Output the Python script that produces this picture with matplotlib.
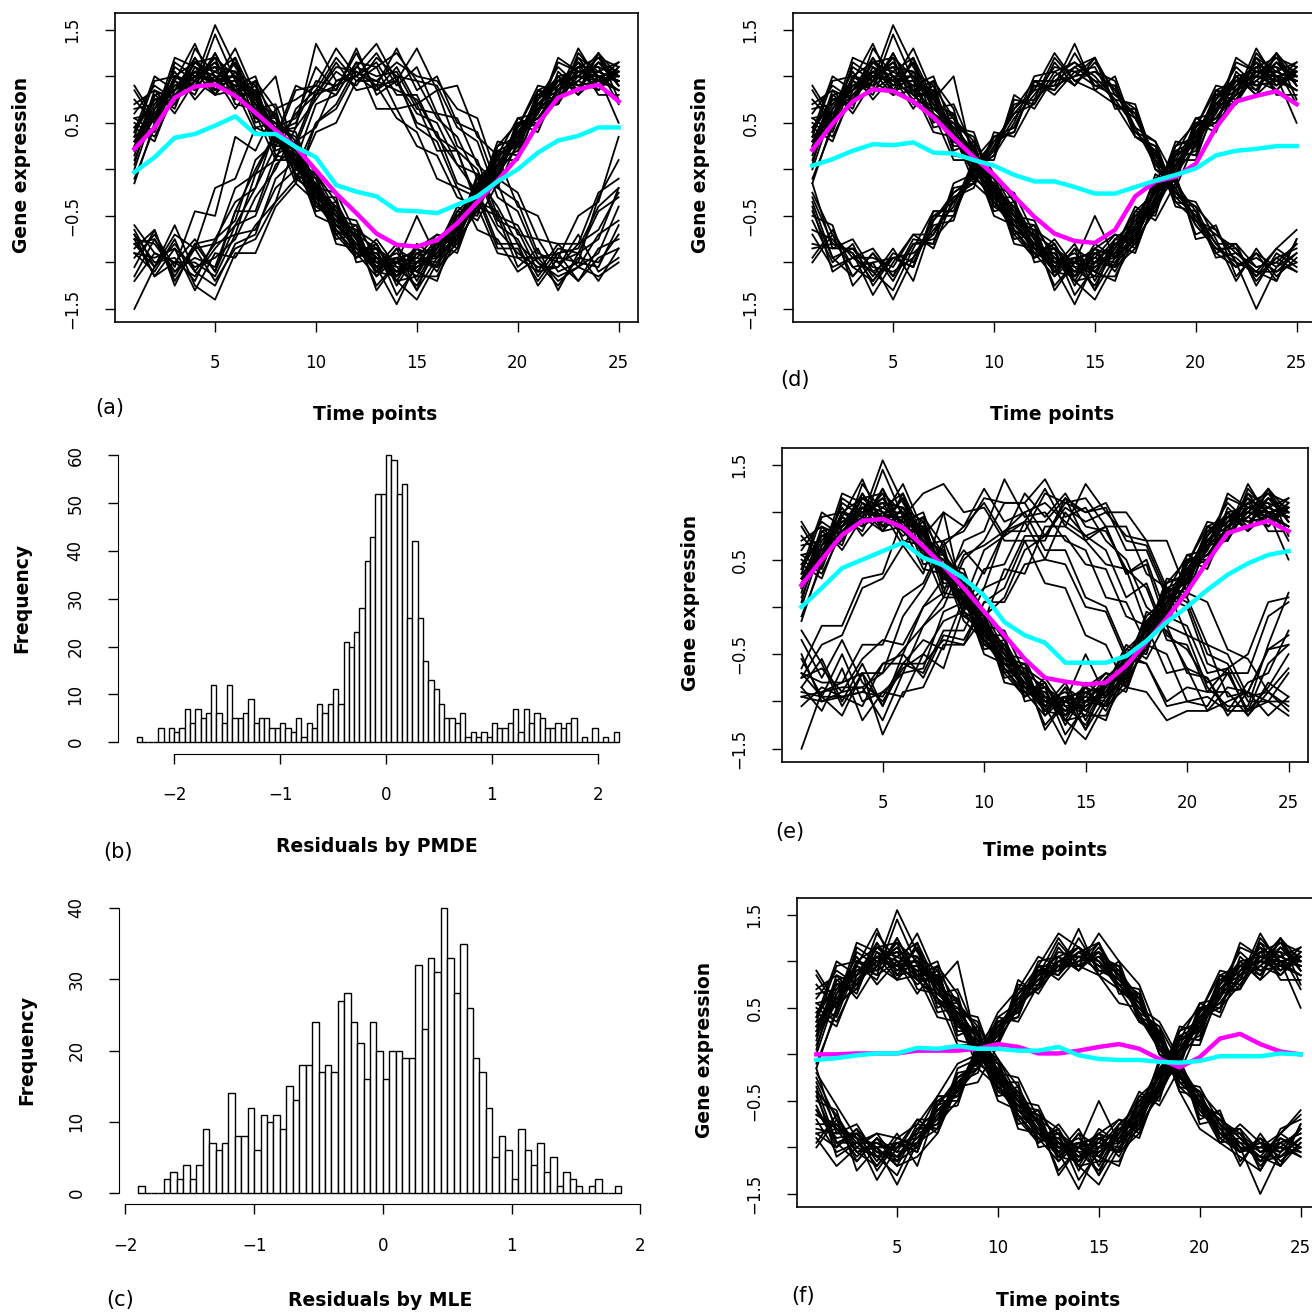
import numpy as np
import matplotlib
matplotlib.use('Agg')
from matplotlib import pyplot as plt

W, H = 1312, 1314
plt.rcParams['font.family'] = 'DejaVu Sans'

time_points = np.arange(1, 26)

# cluster 1 profiles (shared by all four expression panels)
group1_lines = [
    [0.55,0.40,0.95,0.80,1.25,0.85,0.95,0.20,0.30,-0.40,-0.35,-0.95,-0.80,-1.25,-0.90,-1.05,-0.45,-0.50,0.20,0.15,0.85,0.70,1.20,0.90,1.10],
    [0.05,0.80,0.65,1.20,0.90,1.15,0.50,0.60,-0.10,-0.05,-0.70,-0.60,-1.15,-0.85,-1.30,-0.75,-0.80,-0.15,-0.10,0.55,0.45,1.05,0.85,1.25,0.75],
    [0.85,0.50,1.10,0.95,0.80,1.20,0.60,0.30,0.25,-0.35,-0.60,-0.65,-1.10,-1.15,-0.80,-0.95,-0.75,-0.20,0.15,0.25,0.80,0.95,0.85,1.15,1.00],
    [0.30,0.75,0.70,1.30,1.00,0.75,0.90,0.55,0.00,-0.10,-0.65,-0.95,-0.75,-1.05,-1.25,-0.85,-0.55,-0.40,-0.05,0.40,0.55,0.80,1.30,0.95,0.85],
    [-0.10,0.45,1.00,0.85,1.45,0.95,0.55,0.45,0.35,-0.25,-0.45,-0.85,-1.00,-0.90,-1.10,-1.20,-0.60,-0.10,0.10,0.20,0.75,1.10,0.90,1.05,1.15],
    [0.60,0.90,0.75,1.05,0.95,1.30,0.80,0.15,0.10,-0.45,-0.40,-0.75,-1.25,-1.00,-0.95,-0.70,-0.85,-0.35,0.25,0.50,0.50,0.75,1.10,1.20,0.90],
    [0.20,0.55,1.20,1.10,0.85,0.90,1.00,0.40,-0.05,-0.20,-0.75,-0.70,-0.85,-1.35,-1.05,-0.90,-0.50,-0.45,0.00,0.45,0.90,0.85,0.95,0.85,1.05],
    [0.45,0.30,0.85,1.15,1.20,0.70,0.65,0.70,0.20,-0.30,-0.30,-1.00,-0.95,-1.10,-0.85,-1.10,-0.70,-0.05,-0.20,0.30,0.60,1.15,1.05,1.10,0.70],
    [0.70,0.85,0.60,0.95,1.55,1.10,0.75,0.35,0.05,-0.15,-0.60,-0.80,-1.05,-0.80,-1.20,-0.80,-0.90,-0.30,0.05,0.35,0.70,0.70,1.25,1.00,0.95],
    [0.10,0.65,1.05,0.75,1.00,1.00,0.45,0.50,0.15,-0.40,-0.55,-0.60,-0.95,-1.20,-1.40,-1.00,-0.65,-0.25,0.20,0.15,0.65,1.00,0.80,1.25,1.00],
    [0.40,1.00,0.85,1.20,0.80,0.85,0.85,0.25,0.25,-0.30,-0.50,-0.90,-1.15,-0.95,-0.90,-0.85,-0.40,-0.55,-0.15,0.50,0.40,0.90,1.15,0.80,0.80],
    [-0.15,0.50,0.75,1.00,1.10,1.05,0.70,0.60,0.00,-0.15,-0.80,-0.85,-0.85,-1.00,-1.15,-1.15,-0.75,-0.30,0.30,0.25,0.85,0.95,1.00,1.20,1.10],
    [0.35,0.95,1.00,0.90,1.25,0.80,0.60,0.10,0.10,-0.05,-0.45,-0.75,-1.05,-1.45,-1.00,-0.75,-0.55,-0.15,0.05,0.40,0.50,1.00,1.05,0.95,0.85],
    [0.90,0.55,0.70,1.10,1.00,0.65,0.95,0.65,-0.10,-0.25,-0.55,-0.90,-0.80,-1.15,-0.90,-1.05,-0.85,-0.35,-0.10,0.45,0.85,0.80,1.20,1.05,0.95],
    [0.25,0.70,0.95,1.35,0.85,1.15,0.70,0.45,0.40,-0.20,-0.25,-0.70,-1.30,-1.00,-1.10,-0.80,-0.75,-0.15,0.10,0.10,0.70,0.95,0.90,0.95,1.15],
    [0.50,0.35,0.80,0.95,1.15,0.85,0.40,0.35,0.10,-0.50,-0.60,-0.85,-0.90,-1.20,-0.85,-0.70,-0.75,-0.45,0.15,0.55,0.60,1.20,1.05,1.00,0.85],
    [0.15,0.80,0.85,1.05,0.80,1.05,0.90,0.30,0.20,-0.10,-0.50,-0.55,-1.00,-0.95,-1.30,-0.95,-0.50,-0.25,-0.05,0.35,0.80,0.75,1.00,1.25,0.90],
    [0.55,0.60,0.90,0.90,1.05,1.20,0.75,1.00,0.05,-0.30,-0.70,-0.95,-0.85,-1.10,-1.05,-0.90,-0.60,-0.45,0.05,0.40,0.55,0.85,1.15,1.00,1.05],
    [0.30,0.45,1.15,1.00,0.95,0.80,0.60,0.45,0.20,-0.20,-0.40,-0.85,-1.10,-0.85,-1.00,-1.05,-0.65,-0.20,0.20,0.30,0.75,1.00,0.80,1.00,0.50],
    [0.20,0.85,0.75,1.15,1.05,0.90,0.85,0.40,-0.15,-0.35,-0.55,-0.65,-0.80,-1.20,-1.15,-0.75,-0.75,-0.30,0.10,0.45,0.65,0.70,1.05,1.05,0.95],
    [0.75,0.50,1.00,0.95,1.20,1.00,0.70,0.30,0.15,-0.25,-0.55,-0.70,-1.05,-1.00,-0.85,-0.95,-0.55,-0.40,0.15,0.30,0.75,0.95,1.10,0.85,1.10],
    [0.00,0.65,0.90,1.05,0.90,0.95,0.75,0.55,0.25,-0.25,-0.65,-0.80,-0.95,-1.05,-1.00,-0.80,-0.65,-0.35,-0.10,0.50,0.55,0.85,0.95,1.15,0.90],
    [0.45,0.75,0.85,1.00,1.10,0.80,0.80,0.40,0.10,-0.20,-0.45,-0.85,-0.90,-1.15,-1.00,-0.95,-0.70,-0.20,0.05,0.30,0.70,0.90,1.00,0.90,1.05],
    [0.30,0.60,0.80,1.05,1.10,1.05,0.65,0.45,0.05,-0.30,-0.50,-0.75,-1.05,-1.00,-1.05,-0.90,-0.60,-0.35,0.00,0.40,0.70,0.85,1.05,1.05,0.95],
    [0.25,0.65,0.85,1.00,0.95,0.95,0.70,0.40,0.10,-0.25,-0.60,-0.80,-0.95,-1.00,-0.50,-0.95,-0.70,-0.30,0.05,0.35,0.70,0.95,1.00,1.00,0.95],
    [0.65,0.70,0.95,0.85,1.00,0.90,0.55,0.55,0.30,-0.05,-0.35,-0.75,-1.00,-0.95,-1.10,-0.85,-0.45,-0.25,0.25,0.35,0.60,0.95,1.10,1.10,1.00],
    [0.35,0.55,1.00,1.15,0.95,1.00,0.80,0.35,-0.05,-0.35,-0.65,-0.90,-1.00,-1.10,-0.95,-1.00,-0.80,-0.40,-0.05,0.25,0.65,0.80,0.95,1.15,1.05],
    [0.40,0.75,0.80,1.00,1.15,0.85,0.65,0.50,0.15,-0.20,-0.50,-0.80,-1.10,-0.95,-1.00,-0.90,-0.65,-0.30,0.05,0.40,0.70,0.90,1.00,0.95,1.00],
]

# cluster 2 in anti-phase (panels d and f)
group2_lines = [
    [-0.55,-1.00,-0.80,-1.25,-0.95,-1.05,-0.50,-0.50,0.00,0.15,0.75,0.70,1.15,0.90,1.20,0.65,0.65,0.00,-0.10,-0.70,-0.60,-1.15,-0.90,-1.20,-0.75],
    [-0.25,-0.70,-1.15,-0.90,-1.20,-0.80,-0.80,-0.20,-0.15,0.35,0.40,0.95,0.85,1.25,0.90,0.90,0.35,0.25,-0.35,-0.40,-0.90,-0.80,-1.25,-0.90,-1.05],
    [-0.80,-0.85,-0.75,-1.10,-1.30,-0.85,-0.45,-0.45,0.05,0.20,0.65,0.95,0.80,1.05,1.10,0.70,0.60,0.10,-0.15,-0.55,-0.85,-1.00,-1.10,-0.85,-0.65],
    [-0.40,-1.10,-0.95,-0.95,-1.05,-0.70,-0.85,-0.30,-0.20,0.40,0.35,0.75,1.20,0.95,0.85,1.00,0.40,0.30,-0.30,-0.35,-0.75,-1.20,-0.85,-1.15,-0.95],
    [-0.95,-0.65,-1.05,-1.20,-0.90,-1.00,-0.60,-0.55,0.10,0.10,0.80,0.65,1.00,1.15,1.00,0.75,0.70,0.05,-0.05,-0.75,-0.70,-0.85,-1.20,-0.95,-1.10],
    [-0.15,-0.85,-0.85,-1.15,-0.85,-1.20,-0.55,-0.25,-0.10,0.30,0.60,0.85,1.25,0.95,1.05,0.95,0.35,0.20,-0.40,-0.45,-0.95,-0.90,-1.05,-1.00,-0.80],
    [-0.70,-1.05,-0.95,-0.85,-1.15,-0.75,-0.80,-0.15,-0.05,0.35,0.45,0.90,0.90,1.35,0.85,0.70,0.55,0.15,-0.25,-0.40,-0.65,-1.00,-1.50,-1.05,-0.90],
    [-0.50,-0.60,-1.25,-1.00,-0.95,-1.05,-0.45,-0.45,-0.05,0.20,0.70,0.75,0.95,1.00,1.20,0.80,0.60,0.00,-0.20,-0.60,-0.85,-0.85,-1.15,-0.85,-1.00],
    [-0.85,-0.80,-0.90,-1.35,-1.00,-0.70,-0.70,-0.35,0.00,0.15,0.50,1.00,1.05,0.90,1.15,0.85,0.40,0.20,-0.30,-0.50,-0.80,-1.05,-0.95,-1.10,-0.90],
    [-0.35,-0.95,-0.85,-1.05,-1.10,-0.95,-0.65,-0.40,0.10,0.35,0.45,0.90,0.85,1.10,0.95,0.75,0.45,0.30,-0.10,-0.55,-0.70,-0.90,-1.10,-1.20,-0.75],
    [-0.65,-0.75,-1.05,-1.00,-1.40,-0.95,-0.55,-0.30,-0.15,0.25,0.60,0.70,1.05,1.15,0.95,0.90,0.45,0.05,-0.20,-0.60,-0.85,-0.95,-1.15,-0.95,-0.85],
    [-1.00,-0.70,-0.95,-1.10,-0.95,-0.90,-0.70,-0.25,-0.10,0.25,0.65,0.85,0.90,1.00,1.05,0.85,0.55,0.15,-0.15,-0.45,-0.80,-0.80,-1.05,-1.00,-1.10],
    [-0.45,-0.95,-1.15,-0.90,-1.15,-0.80,-0.75,-0.50,0.05,0.30,0.40,0.95,0.95,1.10,1.20,0.70,0.35,0.25,-0.25,-0.50,-0.90,-1.05,-0.90,-1.05,-0.80],
    [-0.30,-0.80,-0.90,-1.20,-0.95,-1.05,-0.50,-0.35,0.00,0.20,0.55,0.80,1.10,1.05,0.90,0.80,0.65,0.10,-0.35,-0.55,-0.65,-1.00,-1.10,-1.10,-1.00],
    [-0.75,-0.75,-1.05,-0.95,-1.10,-0.80,-0.60,-0.40,-0.15,0.30,0.50,0.75,1.00,0.95,1.10,0.85,0.40,0.15,-0.10,-0.45,-0.75,-0.95,-1.00,-0.85,-0.60],
    [-0.60,-0.90,-0.85,-1.00,-1.00,-0.95,-0.80,-0.30,-0.05,0.40,0.55,0.70,0.95,1.15,1.00,0.70,0.50,0.25,-0.25,-0.40,-0.85,-1.05,-0.95,-1.00,-1.05],
    [-0.85,-1.00,-0.80,-1.05,-1.15,-1.00,-0.55,-0.45,0.00,0.15,0.50,0.90,1.05,0.90,1.10,0.90,0.60,0.10,-0.20,-0.55,-0.70,-0.90,-1.15,-1.10,-0.90],
    [-0.40,-0.65,-1.00,-1.10,-1.00,-0.85,-0.75,-0.25,-0.10,0.25,0.65,0.80,0.90,1.10,0.95,0.95,0.40,0.05,-0.20,-0.65,-0.75,-1.00,-1.00,-0.95,-0.85],
    [-0.60,-0.95,-0.95,-0.95,-1.10,-0.90,-0.60,-0.40,-0.05,0.35,0.45,0.85,1.00,0.95,1.05,0.75,0.55,0.20,-0.30,-0.50,-0.85,-0.85,-1.05,-0.90,-1.00],
    [-0.65,-0.80,-1.10,-0.90,-1.05,-1.00,-0.65,-0.35,0.05,0.20,0.60,0.85,1.00,1.05,1.00,0.80,0.50,0.20,-0.15,-0.50,-0.70,-1.05,-1.00,-1.05,-0.80],
    [-0.20,-0.55,-0.90,-1.00,-1.20,-1.10,-0.85,-0.35,-0.30,0.10,0.55,0.95,1.30,1.15,0.85,0.55,0.50,0.35,-0.05,-0.55,-0.95,-1.10,-1.25,-0.80,-0.70],
    [-0.90,-1.20,-1.00,-0.85,-0.90,-0.75,-0.45,-0.10,0.00,0.45,0.70,1.05,0.95,0.95,1.30,1.00,0.75,0.20,-0.40,-0.80,-0.95,-0.75,-0.95,-1.20,-0.95],
]

# cluster 2 with shifted phase (panel a)
shifted_lines = [
    [-0.70,-1.00,-0.95,-1.20,-0.75,-0.55,0.10,0.30,0.85,0.90,1.30,1.00,1.15,0.80,0.80,0.35,0.20,-0.35,-0.45,-0.95,-0.95,-1.20,-1.05,-0.90,-0.40],
    [-1.50,-1.05,-0.80,-1.10,-1.25,-0.80,-0.70,-0.10,0.10,0.70,0.80,1.15,1.10,1.25,0.95,0.90,0.45,0.30,-0.30,-0.45,-0.95,-0.90,-1.20,-0.85,-0.75],
    [-0.85,-0.65,-1.20,-0.85,-0.80,-0.20,-0.05,0.40,0.45,1.35,0.95,1.05,0.90,0.95,0.50,0.40,-0.15,-0.25,-0.80,-0.80,-1.25,-0.95,-1.00,-0.30,0.10],
    [-0.90,-1.10,-0.75,-1.25,-1.40,-0.90,-0.90,-0.40,-0.15,0.50,0.70,1.10,1.35,0.95,1.30,0.85,0.90,0.35,0.15,-0.40,-0.50,-1.00,-0.90,-1.20,-0.85],
    [-0.65,-1.05,-0.70,-0.85,-0.20,-0.10,0.45,0.35,0.90,0.80,1.15,0.85,0.90,0.55,0.40,-0.10,-0.20,-0.65,-0.75,-1.10,-0.95,-0.95,-0.50,-0.35,0.35],
    [-1.15,-0.75,-1.10,-0.95,-1.05,-0.45,-0.45,0.15,0.30,0.85,0.85,1.25,0.85,1.10,0.70,0.85,0.25,0.10,-0.50,-0.60,-1.00,-1.25,-0.95,-1.00,-0.70],
    [-0.70,-1.15,-1.00,-0.75,-1.10,-0.60,-0.50,0.05,0.25,0.80,0.90,1.10,1.00,1.05,0.65,0.60,0.20,0.00,-0.55,-0.65,-1.10,-1.05,-0.70,-1.10,-0.95],
    [-0.95,-0.70,-1.05,-0.45,-0.50,0.35,0.20,0.65,0.75,0.90,0.80,1.15,0.65,0.65,0.25,0.15,-0.30,-0.40,-0.90,-0.95,-1.10,-0.80,-0.80,-0.25,-0.10],
    [-1.20,-0.90,-1.00,-1.00,-1.15,-0.70,-0.65,-0.20,0.00,0.50,0.65,1.05,0.90,1.30,0.85,1.00,0.50,0.40,-0.20,-0.35,-0.90,-1.00,-1.20,-0.95,-0.85],
    [-0.80,-1.05,-0.60,-1.10,-0.80,-0.70,-0.05,0.10,0.65,0.85,1.20,0.95,1.10,0.65,0.70,0.20,0.20,-0.40,-0.50,-1.05,-0.85,-1.30,-0.90,-0.75,-0.20],
    [-0.75,-0.80,-1.10,-0.85,-1.20,-0.85,-0.75,-0.35,-0.10,0.40,0.50,0.95,0.95,1.15,1.00,0.95,0.65,0.55,-0.10,-0.25,-0.75,-0.80,-1.05,-1.15,-1.00],
    [-1.05,-0.65,-1.25,-0.80,-0.75,-0.35,-0.20,0.45,0.55,1.10,0.85,1.30,0.80,0.95,0.60,0.50,0.05,-0.05,-0.60,-0.75,-1.15,-0.85,-0.90,-0.45,-0.30],
    [-0.75,-1.15,-0.85,-1.30,-0.90,-0.95,-0.60,-0.35,0.30,0.45,0.95,1.00,1.25,0.90,1.10,0.60,0.55,0.05,-0.15,-0.70,-0.75,-1.10,-1.00,-1.05,-0.60],
    [-0.80,-0.75,-1.15,-0.80,-1.10,-0.45,0.00,0.40,0.50,0.95,0.90,1.00,0.85,1.00,0.45,0.30,-0.20,-0.30,-0.85,-0.85,-1.20,-0.90,-0.85,-0.40,-0.20],
    [-0.90,-0.95,-0.85,-1.05,-0.95,-0.75,-0.30,0.00,0.45,0.75,1.05,0.90,1.20,1.00,0.95,0.55,0.35,-0.10,-0.40,-0.80,-1.00,-1.15,-1.05,-0.70,-0.55],
    [-0.60,-0.90,-1.00,-1.15,-0.85,-0.60,-0.20,0.25,0.60,0.80,1.10,1.05,0.95,0.85,0.75,0.35,0.05,-0.25,-0.65,-0.90,-1.05,-1.05,-0.80,-0.65,-0.25],
]

# cluster 2 with mixed phases (panel e)
mixed_lines = [
    [-0.70,-0.95,-0.50,-1.00,-0.90,-0.70,-0.20,0.00,0.50,0.70,1.10,1.10,1.35,0.95,1.05,0.70,0.50,0.00,-0.20,-0.70,-0.75,-1.15,-0.90,-1.00,-0.70],
    [-1.50,-0.90,-0.80,-0.40,-0.40,0.10,0.25,0.70,0.80,1.15,1.10,1.10,0.75,0.75,0.45,0.40,-0.10,-0.20,-0.70,-0.65,-1.10,-1.00,-0.90,-0.45,-0.40],
    [-0.85,-1.10,-0.65,-1.20,-0.90,-0.95,-0.50,-0.65,0.00,0.20,0.80,0.80,1.20,1.10,1.15,0.85,0.85,0.35,0.20,-0.30,-0.40,-0.95,-0.90,-1.15,-0.95],
    [-0.95,-1.00,-0.90,-0.85,-0.70,-0.10,0.20,0.65,0.85,1.25,0.90,1.00,0.60,0.60,0.10,0.00,-0.50,-0.60,-1.05,-1.00,-1.05,-0.70,-0.70,-0.10,0.05],
    [-0.25,-0.60,-1.05,-0.70,-1.35,-0.90,-0.85,-0.40,-0.40,0.05,0.20,0.70,0.70,1.15,1.00,1.05,0.60,0.60,0.10,0.00,-0.60,-0.70,-1.10,-1.00,-1.15],
    [-0.70,-0.80,-0.80,-0.70,-0.70,-0.45,-0.20,0.10,0.55,0.65,0.80,0.90,1.25,0.85,0.70,0.45,0.40,-0.20,-0.25,-0.65,-0.75,-1.10,-1.10,-0.85,-0.50],
    [-0.65,-0.20,-0.20,0.30,0.35,0.95,1.20,1.30,1.00,1.05,0.70,0.70,0.25,0.20,-0.30,-0.40,-0.85,-0.90,-1.20,-1.10,-1.10,-0.85,-0.90,-0.45,-0.30],
    [-0.50,-1.00,-0.95,-1.05,-0.60,-0.50,0.00,0.15,0.70,0.80,1.35,0.95,1.00,0.70,0.60,0.10,0.05,-0.40,-0.50,-1.00,-0.95,-1.10,-0.80,-0.70,-0.25],
    [-0.90,-0.95,-1.15,-0.70,-1.05,-0.60,-0.70,-0.25,-0.25,0.20,0.30,0.75,0.75,1.10,1.00,1.10,0.70,0.65,0.15,0.05,-0.50,-0.60,-1.00,-1.00,-1.00],
    [-0.35,-0.75,-0.35,-0.80,-1.00,-0.65,-0.50,-0.15,-0.05,0.40,0.45,0.90,0.90,1.15,0.70,0.85,0.35,0.50,-0.10,-0.20,-0.70,-0.65,-1.15,-0.90,-1.05],
    [-1.05,-0.85,-0.95,-0.90,-0.95,-0.60,-0.60,-0.35,-0.40,-0.10,0.10,0.60,0.75,1.05,0.90,1.00,0.75,0.70,0.20,0.10,-0.40,-0.50,-0.95,-0.90,-1.10],
    [-0.75,-0.40,-0.30,0.20,0.30,0.65,0.35,1.00,0.85,1.10,0.75,0.90,0.50,0.45,0.00,-0.05,-0.55,-0.60,-1.00,-0.85,-0.90,-0.65,-0.50,0.05,0.10],
    [-0.95,-0.90,-0.85,-0.85,-1.20,-0.70,-0.65,-0.05,0.05,0.60,0.75,1.20,0.95,1.20,0.85,0.80,0.40,0.20,-0.35,-0.40,-0.90,-0.90,-1.15,-0.80,-0.95],
    [-0.55,-0.95,-0.95,-0.90,-0.60,-0.60,-0.35,-0.45,0.10,-0.15,0.40,0.35,0.85,0.85,1.30,1.00,1.00,0.70,0.70,0.15,0.05,-0.45,-0.55,-0.90,-0.65],
    [-0.85,-0.55,-1.00,-0.60,-1.05,-0.50,-0.75,-0.30,-0.35,0.05,0.05,0.45,0.50,1.00,0.75,0.85,0.35,0.45,-0.20,-0.30,-0.85,-1.05,-1.05,-0.40,0.15],
    [-0.75,-0.65,-0.90,-0.55,-0.35,-0.40,0.00,0.30,0.60,0.35,0.80,1.00,1.10,0.90,0.75,0.60,0.10,0.25,-0.30,-0.45,-0.80,-0.70,-1.10,-0.60,-0.40],
]

# estimated mean curves (magenta / cyan)
mag_a = [0.22,0.45,0.77,0.89,0.91,0.79,0.61,0.42,0.24,-0.01,-0.26,-0.47,-0.69,-0.81,-0.83,-0.76,-0.58,-0.35,-0.12,0.13,0.49,0.77,0.86,0.91,0.73]
cyan_a = [-0.03,0.13,0.34,0.38,0.47,0.57,0.38,0.38,0.24,0.13,-0.17,-0.24,-0.29,-0.44,-0.45,-0.47,-0.38,-0.29,-0.13,0.00,0.18,0.31,0.36,0.45,0.45]
mag_d = [0.21,0.49,0.73,0.86,0.84,0.73,0.56,0.34,0.13,-0.06,-0.29,-0.51,-0.69,-0.77,-0.79,-0.65,-0.29,-0.13,-0.08,0.06,0.45,0.73,0.79,0.84,0.70]
cyan_d = [0.04,0.11,0.20,0.27,0.26,0.29,0.18,0.17,0.10,0.04,-0.06,-0.13,-0.13,-0.19,-0.26,-0.26,-0.19,-0.12,-0.06,0.01,0.15,0.20,0.22,0.25,0.25]
mag_e = [0.23,0.50,0.76,0.91,0.93,0.84,0.64,0.43,0.20,-0.05,-0.30,-0.55,-0.75,-0.79,-0.82,-0.80,-0.62,-0.37,-0.12,0.16,0.48,0.78,0.85,0.91,0.80]
cyan_e = [0.00,0.20,0.41,0.50,0.59,0.68,0.52,0.44,0.30,0.12,-0.16,-0.30,-0.38,-0.59,-0.59,-0.59,-0.52,-0.36,-0.16,0.00,0.18,0.34,0.46,0.55,0.59]
mag_f = [0.00,0.00,0.01,0.01,0.01,0.04,0.04,0.04,0.06,0.11,0.08,0.01,0.01,0.04,0.08,0.11,0.06,-0.05,-0.14,-0.03,0.17,0.22,0.11,0.03,0.00]
cyan_f = [-0.06,-0.04,-0.01,0.01,0.01,0.07,0.06,0.09,0.06,0.06,0.04,0.04,0.08,-0.01,-0.05,-0.06,-0.06,-0.08,-0.09,-0.07,-0.02,-0.02,-0.02,0.01,0.00]

# histogram counts, bins of width 0.05
pmde_start = -2.35
pmde_counts = [1,0,0,0,3,0,3,2,3,7,4,7,5,6,12,6,4,12,5,5,6,9,4,5,5,3,3,4,3,2,5,1,4,3,8,6,8,11,8,21,20,23,28,38,
               43,52,52,60,59,52,54,26,42,26,17,13,11,8,5,5,4,6,1,2,1,2,1,4,3,3,4,7,2,7,4,6,5,3,3,4,3,4,
               5,0,1,0,3,0,1,0,2]
mle_start = -1.9
mle_counts = [1,0,0,0,2,3,2,4,2,4,9,7,6,7,14,8,8,12,6,11,10,11,9,15,13,18,18,24,17,18,17,27,28,24,21,16,24,20,16,20,
              20,19,19,32,23,33,31,40,33,28,35,26,19,17,12,5,8,6,2,9,6,4,7,3,5,1,3,2,1,0,1,2,0,0,1]

fig = plt.figure(figsize=(W / 100, H / 100), dpi=100)


def px_axes(l, t, r, b):
    return fig.add_axes([l / W, 1 - b / H, (r - l) / W, (b - t) / H])


def px_text(x, y, s, size, bold=False, rot=0):
    fig.text(x / W, 1 - y / H, s, ha='center', va='center', fontsize=size,
             fontweight='bold' if bold else 'normal', rotation=rot)


def expr_panel(box, lines, mag, cyan):
    ax = px_axes(*box)
    for y in lines:
        ax.plot(time_points, y, color='black', lw=1.3)
    ax.plot(time_points, mag, color='#ff00ff', lw=3.2)
    ax.plot(time_points, cyan, color='#00ffff', lw=3.2)
    ax.set_xlim(0.04, 25.96)
    ax.set_ylim(-1.64, 1.68)
    ax.set_xticks([5, 10, 15, 20, 25])
    ax.set_yticks([-1.5, -1, -0.5, 0, 0.5, 1, 1.5])
    ax.set_yticklabels(['\u22121.5', '', '\u22120.5', '', '0.5', '', '1.5'], rotation=90, va='center')
    ax.tick_params(direction='out', length=7.2, width=1, labelsize=12)
    ax.tick_params(axis='x', pad=16)
    ax.tick_params(axis='y', pad=17)
    for s in ax.spines.values():
        s.set_linewidth(1.2)
    return ax


def hist_panel(box, start, counts, xlim, ymax, ystep):
    ax = px_axes(*box)
    edges = start + 0.05 * np.arange(len(counts))
    ax.bar(edges, counts, width=0.05, align='edge', color='white', edgecolor='black', lw=1.0)
    ax.set_xlim(*xlim)
    ax.set_ylim(-0.04 * ymax, 1.04 * ymax)
    for s in ['top', 'right']:
        ax.spines[s].set_visible(False)
    ax.spines['left'].set_bounds(0, ymax)
    ax.spines['bottom'].set_bounds(-2, 2)
    ax.set_xticks([-2, -1, 0, 1, 2])
    ax.set_xticklabels(['\u22122', '\u22121', '0', '1', '2'])
    yt = np.arange(0, ymax + 1, ystep)
    ax.set_yticks(yt)
    ax.set_yticklabels([str(v) for v in yt], rotation=90, va='center')
    ax.tick_params(direction='out', length=7.2, width=1, labelsize=12)
    ax.tick_params(axis='x', pad=16)
    ax.tick_params(axis='y', pad=17)
    return ax


expr_panel((115, 13, 638, 322), group1_lines + shifted_lines, mag_a, cyan_a)
expr_panel((793, 13, 1316, 322), group1_lines + group2_lines[:14], mag_d, cyan_d)
expr_panel((782, 448, 1308, 762), group1_lines + mixed_lines, mag_e, cyan_e)
expr_panel((797, 898, 1320, 1207), group1_lines + group2_lines, mag_f, cyan_f)

hist_panel((118, 444, 638, 753.5), pmde_start, pmde_counts, (-2.53, 2.38), 60, 10)
hist_panel((119, 896.6, 640.4, 1204.4), mle_start, mle_counts, (-2.05, 2.0), 40, 10)

# labels
px_text(22, 165, 'Gene expression', 13.5, True, 90)
px_text(700, 165, 'Gene expression', 13.5, True, 90)
px_text(690, 603, 'Gene expression', 13.5, True, 90)
px_text(705, 1050, 'Gene expression', 13.5, True, 90)
px_text(22, 598, 'Frequency', 13.5, True, 90)
px_text(27, 1050, 'Frequency', 13.5, True, 90)

px_text(375, 415, 'Time points', 13.5, True)
px_text(1052, 415, 'Time points', 13.5, True)
px_text(1045, 851, 'Time points', 13.5, True)
px_text(1058, 1300, 'Time points', 13.5, True)
px_text(377, 847, 'Residuals by PMDE', 13.5, True)
px_text(380, 1300, 'Residuals by MLE', 13.5, True)

px_text(110, 408, '(a)', 15)
px_text(795, 380, '(d)', 15)
px_text(118, 852, '(b)', 15)
px_text(790, 832, '(e)', 15)
px_text(120, 1300, '(c)', 15)
px_text(803, 1296, '(f)', 15)

fig.savefig('out.png', dpi=100)
